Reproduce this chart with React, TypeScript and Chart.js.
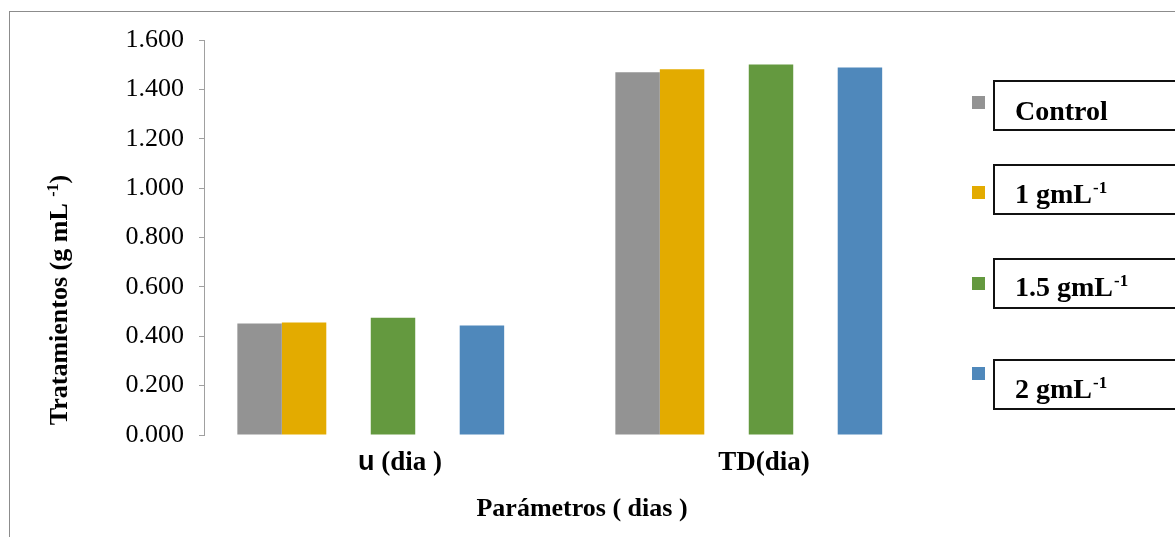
import { useEffect, useRef } from 'react';
import { Chart, registerables } from 'chart.js';

Chart.register(...registerables);

// Categories on the x axis
const categories = ['u (dia )', 'TD(dia)'];

// Treatment series (g mL-1)
const controlValues = [0.452, 1.469];
const oneGmlValues = [0.456, 1.482];
const oneHalfGmlValues = [0.475, 1.501];
const twoGmlValues = [0.444, 1.489];

// Legend names and their superscripts
const seriesNames = ['Control', '1 gmL', '1.5 gmL', '2 gmL'];
const seriesSuperscripts = ['', '-1', '-1', '-1'];
const seriesColors = ['#939393', '#E3AB00', '#64993F', '#4F88BB'];

const yTitleMain = 'Tratamientos (g mL ';
const yTitleSup = '-1';
const yTitleEnd = ')';
const xTitle = 'Parámetros ( dias )';

const SERIF = "'Liberation Serif', 'Times New Roman', serif";
const SANS = "'Liberation Sans', Arial, sans-serif";

// Seven bar slots per category (three are empty placeholders), gap width 150%
const SLOTS = 7;
const CATEGORY_PCT = SLOTS / (SLOTS + 1.5);

// Category labels: leading characters set in sans, small horizontal nudges
const LABEL_SANS_LEAD = [1, 0];
const LABEL_NUDGE = [7, -7];
const LABEL_BASELINE_OFFSET = 35;

// Framed legend text boxes
const LEGEND_SWATCH_X = 972;
const LEGEND_SWATCH_SIZE = 13;
const LEGEND_SWATCH_TOPS = [96, 186, 277, 367];
const LEGEND_BOX_LEFT = 994;
const LEGEND_BOX_TOPS = [81, 165, 259, 360];
const LEGEND_BOX_HEIGHT = 49;
const LEGEND_TEXT_X = 1015;
const LEGEND_TEXT_BASELINES = [120, 203, 296, 398];

const decorPlugin = {
  id: 'decor',
  afterDraw(chart: any) {
    const ctx: CanvasRenderingContext2D = chart.ctx;
    const W = chart.width;
    const H = chart.height;
    const area = chart.chartArea;
    const xScale = chart.scales.x;

    // outer frame
    ctx.save();
    ctx.strokeStyle = '#8c8c8c';
    ctx.lineWidth = 1;
    ctx.strokeRect(9.5, 11.5, W + 20, H + 20);
    ctx.restore();

    // category labels under each group
    ctx.save();
    ctx.fillStyle = '#000';
    ctx.textBaseline = 'alphabetic';
    ctx.textAlign = 'left';
    const sansFont = `bold 27px ${SANS}`;
    const serifFont = `bold 27px ${SERIF}`;
    categories.forEach((label, i) => {
      const lead = label.slice(0, LABEL_SANS_LEAD[i]);
      const rest = label.slice(LABEL_SANS_LEAD[i]).trimEnd();
      ctx.font = sansFont;
      const wl = ctx.measureText(lead).width;
      ctx.font = serifFont;
      const wr = ctx.measureText(rest).width;
      const cx = xScale.getPixelForValue(i) + LABEL_NUDGE[i];
      let x = cx - (wl + wr) / 2;
      const y = area.bottom + LABEL_BASELINE_OFFSET;
      if (lead) {
        ctx.font = sansFont;
        ctx.fillText(lead, x, y);
        x += wl;
      }
      ctx.font = serifFont;
      ctx.fillText(rest, x, y);
    });
    ctx.restore();

    // y axis title with superscript
    ctx.save();
    ctx.translate(67, 300);
    ctx.rotate(-Math.PI / 2);
    ctx.fillStyle = '#000';
    ctx.textBaseline = 'alphabetic';
    const mainFont = `bold 26px ${SERIF}`;
    const supFont = `bold 16px ${SERIF}`;
    ctx.font = mainFont;
    const w1 = ctx.measureText(yTitleMain).width;
    const w3 = ctx.measureText(yTitleEnd).width;
    ctx.font = supFont;
    const w2 = ctx.measureText(yTitleSup).width;
    let tx = -(w1 + w2 + w3) / 2;
    ctx.font = mainFont;
    ctx.fillText(yTitleMain, tx, 0);
    tx += w1;
    ctx.font = supFont;
    ctx.fillText(yTitleSup, tx, -9);
    tx += w2;
    ctx.font = mainFont;
    ctx.fillText(yTitleEnd, tx, 0);
    ctx.restore();

    // legend
    ctx.save();
    seriesNames.forEach((name, i) => {
      ctx.fillStyle = seriesColors[i];
      ctx.fillRect(LEGEND_SWATCH_X, LEGEND_SWATCH_TOPS[i], LEGEND_SWATCH_SIZE, LEGEND_SWATCH_SIZE);

      ctx.strokeStyle = '#111';
      ctx.lineWidth = 2;
      ctx.strokeRect(LEGEND_BOX_LEFT, LEGEND_BOX_TOPS[i], W - LEGEND_BOX_LEFT + 20, LEGEND_BOX_HEIGHT);

      ctx.fillStyle = '#000';
      ctx.textBaseline = 'alphabetic';
      ctx.font = `bold 28px ${SERIF}`;
      ctx.fillText(name, LEGEND_TEXT_X, LEGEND_TEXT_BASELINES[i]);
      const sup = seriesSuperscripts[i];
      if (sup) {
        const wn = ctx.measureText(name).width;
        ctx.font = `bold 17px ${SERIF}`;
        ctx.fillText(sup, LEGEND_TEXT_X + wn + 1, LEGEND_TEXT_BASELINES[i] - 10);
      }
    });
    ctx.restore();
  },
};

export default function App() {
  const canvasRef = useRef<HTMLCanvasElement | null>(null);

  useEffect(() => {
    if (!canvasRef.current) return;
    const bar = (label: string, data: (number | null)[], color: string) => ({
      label,
      data,
      backgroundColor: color,
      borderWidth: 0,
      categoryPercentage: CATEGORY_PCT,
      barPercentage: 1,
    });
    const empty = [null, null];

    const chart = new Chart(canvasRef.current, {
      type: 'bar',
      data: {
        labels: categories,
        datasets: [
          bar(seriesNames[0], controlValues, seriesColors[0]),
          bar(seriesNames[1], oneGmlValues, seriesColors[1]),
          bar('', empty, 'transparent'),
          bar(seriesNames[2], oneHalfGmlValues, seriesColors[2]),
          bar('', empty, 'transparent'),
          bar(seriesNames[3], twoGmlValues, seriesColors[3]),
          bar('', empty, 'transparent'),
        ] as any,
      },
      options: {
        responsive: true,
        maintainAspectRatio: false,
        animation: false,
        layout: { padding: { left: 0, top: 40, right: 215, bottom: 0 } },
        plugins: {
          legend: { display: false },
          tooltip: { enabled: false },
        },
        scales: {
          x: {
            grid: { display: false, drawTicks: false },
            border: { display: false },
            ticks: { display: false },
            title: {
              display: true,
              text: xTitle,
              font: { family: SERIF, size: 26, weight: 'bold' },
              color: '#000',
              padding: { top: 0, bottom: 12 },
            },
            afterFit: (s: any) => {
              s.height = 102;
            },
          },
          y: {
            min: 0,
            max: 1.6,
            ticks: {
              stepSize: 0.2,
              callback: (v: any) => Number(v).toFixed(3),
              font: { family: SERIF, size: 26 },
              color: '#000',
              padding: 15,
            },
            grid: {
              drawOnChartArea: false,
              drawTicks: true,
              tickLength: 5,
              color: '#a0a0a0',
            },
            border: { display: true, color: '#a0a0a0' },
            afterFit: (s: any) => {
              s.width = 204;
            },
          },
        },
      } as any,
      plugins: [decorPlugin],
    });
    return () => chart.destroy();
  }, []);

  return (
    <div style={{ position: 'fixed', left: 0, top: 0, width: '100vw', height: '100vh', background: '#fff' }}>
      <canvas ref={canvasRef} />
    </div>
  );
}
